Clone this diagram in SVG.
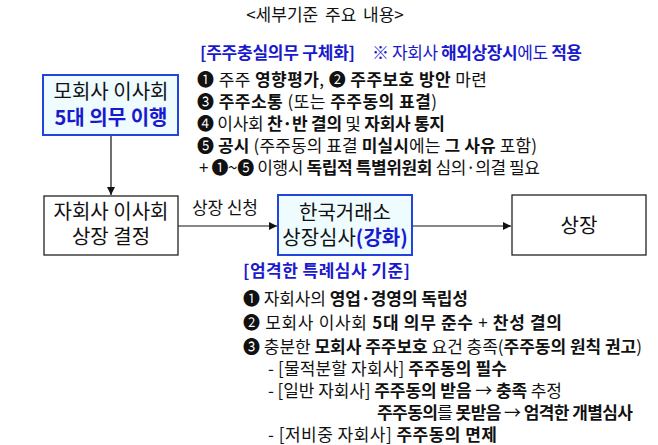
<svg xmlns="http://www.w3.org/2000/svg" width="658" height="445" viewBox="0 0 658 445">
<style>
text{font-family:"Noto Sans CJK KR","Liberation Sans",sans-serif;font-size:17px;fill:#111;}
.b{font-weight:bold;}
.blue{fill:#1a1acd;}
.nodeBlue{fill:#eefbff;stroke:#2244dd;stroke-width:2;}
.node{fill:#fff;stroke:#222;stroke-width:1.3;}
.lbl{font-size:20px;text-anchor:middle;}
.conn{stroke:#111;stroke-width:1.2;fill:none;}
</style>
<defs>
<marker id="arr" viewBox="0 0 10 10" refX="10" refY="5" markerWidth="7" markerHeight="7" orient="auto">
<path d="M0,0 L10,5 L0,10 z" fill="#111"/>
</marker>
</defs>
<rect width="658" height="445" fill="#fff"/>
<text x="325" y="21" font-size="18" text-anchor="middle" word-spacing="3">&lt;세부기준 주요 내용&gt;</text>

<g id="connectors">
<line class="conn" x1="111" y1="135" x2="111" y2="195" marker-end="url(#arr)"/>
<line class="conn" x1="178" y1="226" x2="277" y2="226" marker-end="url(#arr)"/>
<line class="conn" x1="412" y1="226" x2="511" y2="226" marker-end="url(#arr)"/>
<text x="192" y="214" font-size="16" textLength="66" lengthAdjust="spacing">상장 신청</text>
</g>

<g id="parent-board">
<rect class="nodeBlue" x="43" y="75" width="135" height="60"/>
<text class="lbl" x="111" y="99">모회사 이사회</text>
<text class="lbl b blue" x="111" y="125">5대 의무 이행</text>
</g>
<g id="sub-board">
<rect class="node" x="44" y="196" width="134" height="59"/>
<text class="lbl" x="111" y="219">자회사 이사회</text>
<text class="lbl" x="111" y="244">상장 결정</text>
</g>
<g id="krx">
<rect class="nodeBlue" x="278" y="195" width="134" height="60"/>
<text class="lbl" x="345" y="220">한국거래소</text>
<text class="lbl" x="345" y="245">상장심사<tspan class="b blue">(강화)</tspan></text>
</g>
<g id="listing">
<rect class="node" x="512" y="195" width="134" height="60"/>
<text class="lbl" x="579" y="233">상장</text>
</g>

<g id="duty-text">
<text x="200" y="59" class="blue b" textLength="155" lengthAdjust="spacing">[주주충실의무 구체화]</text>
<text x="372" y="59" class="blue" textLength="210" lengthAdjust="spacing">※ 자회사 <tspan class="b">해외상장시</tspan>에도 <tspan class="b">적용</tspan></text>
<text x="197" y="86" textLength="290" lengthAdjust="spacing">❶ 주주 <tspan class="b">영향평가</tspan>, ❷ <tspan class="b">주주보호 방안</tspan> 마련</text>
<text x="197" y="108" textLength="240" lengthAdjust="spacing">❸ <tspan class="b">주주소통</tspan> (또는 <tspan class="b">주주동의 표결</tspan>)</text>
<text x="197" y="130" textLength="248" lengthAdjust="spacing">❹ 이사회 <tspan class="b">찬·반 결의</tspan> 및 <tspan class="b">자회사 통지</tspan></text>
<text x="197" y="152" textLength="340" lengthAdjust="spacing">❺ <tspan class="b">공시</tspan> (주주동의 표결 <tspan class="b">미실시</tspan>에는 <tspan class="b">그 사유</tspan> 포함)</text>
<text x="199" y="174" textLength="341" lengthAdjust="spacing">+ ❶~❺ 이행시 <tspan class="b">독립적 특별위원회</tspan> 심의·의결 필요</text>
</g>

<g id="special-text">
<text x="243" y="277" class="blue b" textLength="167" lengthAdjust="spacing">[엄격한 특례심사 기준]</text>
<text x="243" y="305" textLength="225" lengthAdjust="spacing">❶ 자회사의 <tspan class="b">영업·경영의 독립성</tspan></text>
<text x="243" y="329" textLength="319" lengthAdjust="spacing">❷ 모회사 이사회 <tspan class="b">5대 의무 준수</tspan> + <tspan class="b">찬성 결의</tspan></text>
<text x="243" y="353" textLength="399" lengthAdjust="spacing">❸ 충분한 <tspan class="b">모회사 주주보호</tspan> 요건 충족(<tspan class="b">주주동의 원칙 권고</tspan>)</text>
<text x="268" y="375" textLength="239" lengthAdjust="spacing">- [물적분할 자회사] <tspan class="b">주주동의 필수</tspan></text>
<text x="268" y="397" textLength="294" lengthAdjust="spacing">- [일반 자회사] <tspan class="b">주주동의 받음</tspan> → <tspan class="b">충족</tspan> 추정</text>
<text x="377" y="419" textLength="256" lengthAdjust="spacing"><tspan class="b">주주동의</tspan>를 <tspan class="b">못받음</tspan> → <tspan class="b">엄격한 개별심사</tspan></text>
<text x="268" y="441" textLength="229" lengthAdjust="spacing">- [저비중 자회사] <tspan class="b">주주동의 면제</tspan></text>
</g>
</svg>
